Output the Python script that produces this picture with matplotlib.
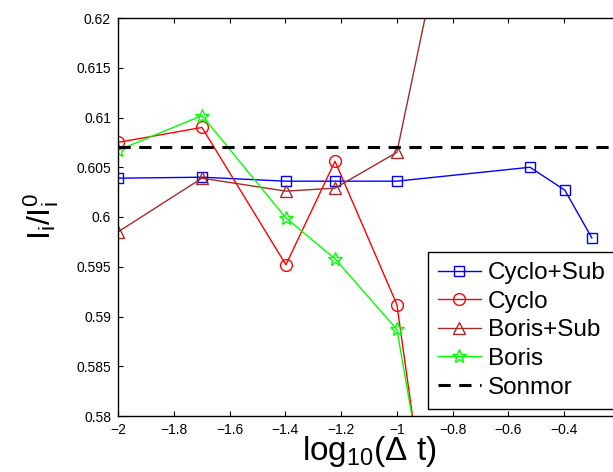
import matplotlib
matplotlib.use("Agg")
import matplotlib.pyplot as plt
import numpy as np

plt.rcParams['font.family'] = ['Liberation Sans', 'DejaVu Sans']
plt.rcParams['mathtext.fontset'] = 'custom'
plt.rcParams['mathtext.rm'] = 'Liberation Sans'
plt.rcParams['mathtext.it'] = 'Liberation Sans'
plt.rcParams['mathtext.default'] = 'regular'

# data
dt_main = [0.01, 0.02, 0.04, 0.06, 0.1, 0.2]
dt_sub = [0.01, 0.02, 0.04, 0.06, 0.1, 0.3, 0.4, 0.5]
cyclo_sub = [0.6039, 0.6040, 0.6036, 0.6036, 0.6036, 0.6050, 0.6027, 0.5979]
cyclo = [0.6075, 0.6090, 0.5952, 0.6056, 0.5912, 0.531]
boris_sub = [0.5985, 0.6039, 0.6026, 0.6029, 0.6065, 0.6468]
boris = [0.6067, 0.6102, 0.5999, 0.5958, 0.5887, 0.540]
sonmor = 0.6070

xticks = [-2, -1.8, -1.6, -1.4, -1.2, -1, -0.8, -0.6, -0.4]
xticklabels = ['\u22122', '\u22121.8', '\u22121.6', '\u22121.4', '\u22121.2', '\u22121', '\u22120.8', '\u22120.6', '\u22120.4']
yticks = [0.58, 0.585, 0.59, 0.595, 0.6, 0.605, 0.61, 0.615, 0.62]
yticklabels = ['0.58', '0.585', '0.59', '0.595', '0.6', '0.605', '0.61', '0.615', '0.62']

fig = plt.figure(figsize=(6.13, 4.72), dpi=100)
ax = fig.add_axes([118/613, 1-416/472, 502/613, 398/472])

x_main = np.log10(dt_main)
x_sub = np.log10(dt_sub)

ax.plot(x_sub, cyclo_sub, color='#0000ff', lw=1.0, marker='s', ms=6.5, mfc='none', mec='#0000ff', mew=1.0, label='Cyclo+Sub')
ax.plot(x_main, cyclo, color='#ff0000', lw=1.0, marker='o', ms=8.5, mfc='none', mec='#ff0000', mew=1.0, label='Cyclo')
ax.plot(x_main, boris_sub, color='#a52a2a', lw=1.0, marker='^', ms=8.5, mfc='none', mec='#a52a2a', mew=1.0, label='Boris+Sub')
ax.plot(x_main, boris, color='#00ff00', lw=1.0, marker='*', ms=10, mfc='none', mec='#00ff00', mew=1.0, label='Boris')
ax.axhline(sonmor, color='black', lw=2.2, ls=(0, (4, 2.8)), label='Sonmor')

ax.set_xlim(-2, -0.2)
ax.set_ylim(0.58, 0.62)
ax.set_xticks(xticks)
ax.set_xticklabels(xticklabels)
ax.set_yticks(yticks)
ax.set_yticklabels(yticklabels)
ax.tick_params(direction='in', length=3.6, width=0.8, labelsize=10, top=True, right=True, pad=5)
for s in ax.spines.values():
    s.set_linewidth(1.0)

ax.set_xlabel('log$_{10}$($\\Delta$ t)', fontsize=24, labelpad=-2)
ax.set_ylabel('$I_i/I_i^0$', fontsize=23, labelpad=11)

leg = ax.legend(loc='upper left', bbox_to_anchor=(428/613, 1-252/472), bbox_transform=fig.transFigure,
                fontsize=17.5, frameon=True, fancybox=False, framealpha=1, edgecolor='black',
                borderaxespad=0, borderpad=0.42, labelspacing=0.27, handlelength=1.75, handletextpad=0.3)
leg.get_frame().set_linewidth(1.0)

fig.savefig('out.png', dpi=100)
